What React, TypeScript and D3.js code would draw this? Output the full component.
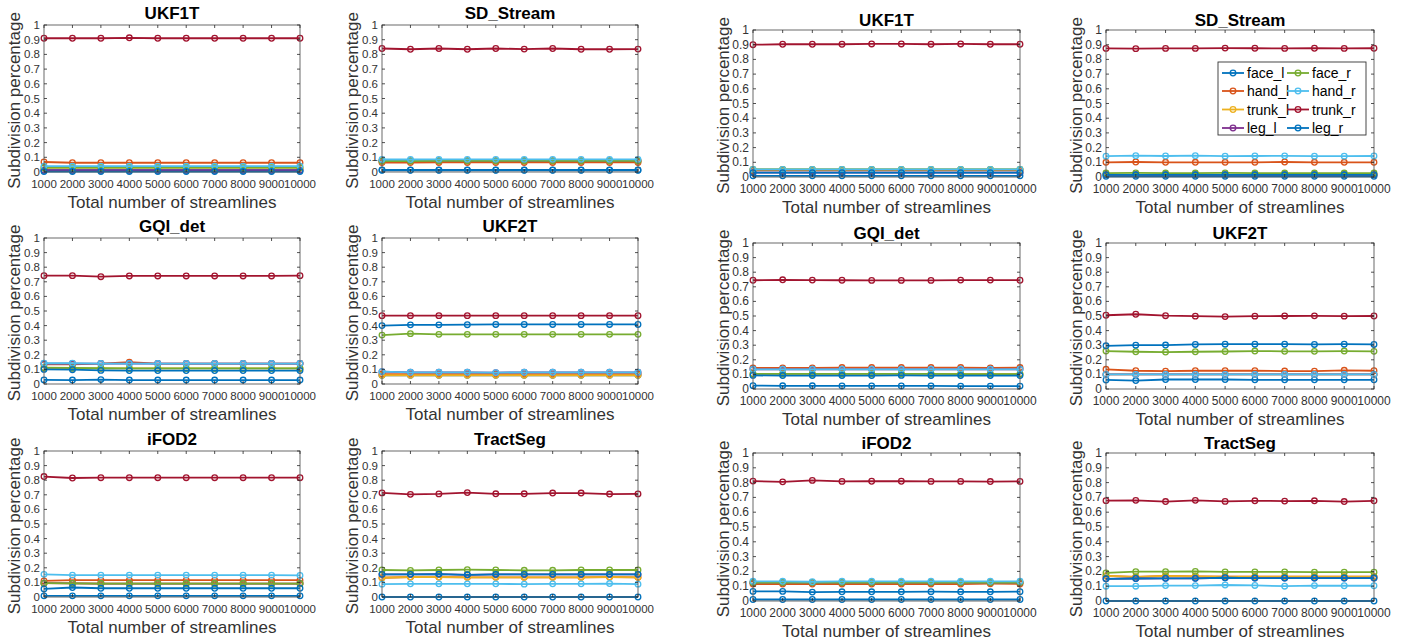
import React from "react";
import * as d3 from "d3";

// Streamline counts on the x axis
const streamlineCounts = [1000, 2000, 3000, 4000, 5000, 6000, 7000, 8000, 9000, 10000];
const yTicks = [0, 0.1, 0.2, 0.3, 0.4, 0.5, 0.6, 0.7, 0.8, 0.9, 1];

// Series in plotting order
const seriesNames = ["face_l", "hand_l", "trunk_l", "leg_l", "face_r", "hand_r", "trunk_r", "leg_r"];
const seriesColors = ["#0072BD", "#D95319", "#EDB120", "#7E2F8E", "#77AC30", "#4DBEEE", "#A2142F", "#0072BD"];
// Legend reads down each column
const legendOrder = ["face_l", "face_r", "hand_l", "hand_r", "trunk_l", "trunk_r", "leg_l", "leg_r"];

const methodTitles = ["UKF1T", "SD_Stream", "GQI_det", "UKF2T", "iFOD2", "TractSeg"];

const flat = (v: number) => streamlineCounts.map(() => v);

// ---- First set ----
const setA_UKF1T = [
  flat(0.012),
  [0.068, 0.063, 0.063, 0.063, 0.063, 0.063, 0.063, 0.063, 0.063, 0.063],
  flat(0.028),
  flat(0.012),
  flat(0.03),
  flat(0.04),
  [0.91, 0.91, 0.91, 0.913, 0.91, 0.91, 0.91, 0.91, 0.91, 0.91],
  flat(0.003),
];
const setA_SDStream = [
  flat(0.014),
  [0.064, 0.064, 0.065, 0.065, 0.065, 0.065, 0.065, 0.065, 0.065, 0.065],
  flat(0.075),
  flat(0.076),
  [0.075, 0.075, 0.076, 0.076, 0.076, 0.077, 0.076, 0.076, 0.076, 0.076],
  [0.085, 0.085, 0.086, 0.086, 0.086, 0.086, 0.086, 0.086, 0.086, 0.086],
  [0.84, 0.835, 0.84, 0.835, 0.84, 0.836, 0.84, 0.835, 0.835, 0.836],
  flat(0.012),
];
const setA_GQI = [
  [0.028, 0.027, 0.03, 0.027, 0.027, 0.027, 0.027, 0.027, 0.027, 0.027],
  [0.135, 0.135, 0.14, 0.15, 0.14, 0.14, 0.14, 0.14, 0.14, 0.14],
  flat(0.107),
  flat(0.14),
  [0.112, 0.11, 0.108, 0.107, 0.107, 0.107, 0.107, 0.107, 0.107, 0.107],
  [0.142, 0.142, 0.14, 0.14, 0.14, 0.14, 0.14, 0.14, 0.14, 0.14],
  [0.742, 0.742, 0.735, 0.74, 0.74, 0.74, 0.74, 0.74, 0.74, 0.742],
  [0.1, 0.098, 0.093, 0.092, 0.092, 0.092, 0.092, 0.092, 0.092, 0.092],
];
const setA_UKF2T = [
  flat(0.06),
  flat(0.068),
  flat(0.06),
  [0.085, 0.08, 0.08, 0.08, 0.078, 0.08, 0.08, 0.08, 0.08, 0.08],
  [0.335, 0.345, 0.34, 0.34, 0.34, 0.34, 0.34, 0.34, 0.34, 0.34],
  [0.085, 0.08, 0.08, 0.08, 0.078, 0.08, 0.08, 0.08, 0.08, 0.08],
  flat(0.468),
  [0.4, 0.405, 0.405, 0.406, 0.408, 0.408, 0.408, 0.408, 0.408, 0.408],
];
const setA_iFOD2 = [
  flat(0.008),
  [0.11, 0.115, 0.115, 0.115, 0.115, 0.115, 0.115, 0.115, 0.115, 0.115],
  [0.095, 0.093, 0.092, 0.092, 0.092, 0.092, 0.092, 0.092, 0.092, 0.092],
  [0.095, 0.093, 0.092, 0.092, 0.092, 0.092, 0.092, 0.092, 0.092, 0.092],
  [0.095, 0.093, 0.092, 0.092, 0.092, 0.092, 0.092, 0.092, 0.092, 0.092],
  [0.155, 0.15, 0.15, 0.15, 0.15, 0.15, 0.15, 0.15, 0.15, 0.148],
  [0.825, 0.815, 0.817, 0.817, 0.817, 0.817, 0.817, 0.817, 0.817, 0.817],
  [0.055, 0.065, 0.06, 0.06, 0.06, 0.06, 0.06, 0.06, 0.06, 0.06],
];
const setA_TractSeg = [
  flat(0.0),
  [0.132, 0.137, 0.137, 0.135, 0.135, 0.135, 0.135, 0.135, 0.137, 0.135],
  [0.132, 0.137, 0.137, 0.135, 0.135, 0.135, 0.135, 0.135, 0.137, 0.135],
  [0.155, 0.155, 0.157, 0.152, 0.155, 0.155, 0.155, 0.155, 0.155, 0.155],
  [0.185, 0.182, 0.185, 0.187, 0.185, 0.183, 0.183, 0.185, 0.185, 0.185],
  [0.088, 0.09, 0.09, 0.09, 0.09, 0.088, 0.09, 0.09, 0.092, 0.088],
  [0.713, 0.703, 0.706, 0.715, 0.707, 0.707, 0.712, 0.712, 0.705, 0.706],
  [0.155, 0.155, 0.157, 0.152, 0.155, 0.155, 0.155, 0.155, 0.155, 0.155],
];

// ---- Second set ----
const setB_UKF1T = [
  flat(0.008),
  flat(0.045),
  flat(0.052),
  flat(0.03),
  flat(0.052),
  flat(0.052),
  [0.9, 0.903, 0.903, 0.903, 0.905, 0.905, 0.903, 0.905, 0.903, 0.903],
  flat(0.03),
];
const setB_SDStream = [
  flat(0.005),
  [0.1, 0.102, 0.1, 0.1, 0.1, 0.1, 0.102, 0.1, 0.1, 0.1],
  flat(0.015),
  flat(0.015),
  [0.027, 0.028, 0.027, 0.027, 0.028, 0.027, 0.027, 0.027, 0.027, 0.027],
  [0.142, 0.145, 0.143, 0.145, 0.142, 0.143, 0.144, 0.142, 0.142, 0.143],
  [0.875, 0.873, 0.875, 0.875, 0.877, 0.876, 0.875, 0.876, 0.875, 0.876],
  flat(0.015),
];
const setB_GQI = [
  [0.023, 0.022, 0.022, 0.021, 0.021, 0.021, 0.021, 0.02, 0.02, 0.02],
  [0.145, 0.145, 0.145, 0.147, 0.147, 0.147, 0.147, 0.147, 0.145, 0.147],
  flat(0.103),
  flat(0.135),
  [0.103, 0.103, 0.103, 0.103, 0.104, 0.104, 0.103, 0.102, 0.102, 0.102],
  flat(0.135),
  [0.745, 0.748, 0.746, 0.745, 0.744, 0.744, 0.744, 0.746, 0.746, 0.745],
  [0.093, 0.092, 0.092, 0.092, 0.092, 0.093, 0.092, 0.092, 0.092, 0.092],
];
const setB_UKF2T = [
  [0.062, 0.058, 0.065, 0.065, 0.065, 0.063, 0.063, 0.063, 0.063, 0.063],
  [0.135, 0.125, 0.122, 0.125, 0.125, 0.125, 0.123, 0.122, 0.128, 0.125],
  flat(0.1),
  flat(0.1),
  [0.26, 0.255, 0.253, 0.255, 0.257, 0.26, 0.258, 0.258, 0.26, 0.258],
  flat(0.1),
  [0.505, 0.512, 0.502, 0.499, 0.496, 0.499, 0.5, 0.501, 0.499, 0.5],
  [0.296, 0.3, 0.301, 0.305, 0.307, 0.307, 0.307, 0.305, 0.307, 0.305],
];
const setB_iFOD2 = [
  flat(0.01),
  [0.115, 0.115, 0.115, 0.115, 0.115, 0.115, 0.115, 0.115, 0.117, 0.115],
  flat(0.125),
  flat(0.125),
  flat(0.125),
  [0.133, 0.133, 0.13, 0.133, 0.133, 0.133, 0.133, 0.133, 0.133, 0.133],
  [0.81, 0.805, 0.815, 0.808, 0.809, 0.809, 0.808, 0.808, 0.807, 0.808],
  [0.065, 0.065, 0.06, 0.062, 0.062, 0.062, 0.063, 0.062, 0.062, 0.063],
];
const setB_TractSeg = [
  flat(0.0),
  [0.17, 0.163, 0.17, 0.167, 0.165, 0.165, 0.165, 0.165, 0.165, 0.165],
  [0.17, 0.163, 0.17, 0.167, 0.165, 0.165, 0.165, 0.165, 0.165, 0.165],
  [0.15, 0.152, 0.153, 0.153, 0.157, 0.155, 0.155, 0.155, 0.155, 0.155],
  [0.19, 0.198, 0.198, 0.2, 0.197, 0.197, 0.197, 0.195, 0.195, 0.195],
  [0.1, 0.1, 0.104, 0.104, 0.108, 0.105, 0.1, 0.104, 0.103, 0.103],
  [0.678, 0.68, 0.672, 0.68, 0.673, 0.677, 0.675, 0.677, 0.672, 0.677],
  [0.15, 0.152, 0.153, 0.153, 0.157, 0.155, 0.155, 0.155, 0.155, 0.155],
];

const setA = [setA_UKF1T, setA_SDStream, setA_GQI, setA_UKF2T, setA_iFOD2, setA_TractSeg];
const setB = [setB_UKF1T, setB_SDStream, setB_GQI, setB_UKF2T, setB_iFOD2, setB_TractSeg];

const FONT = "'Liberation Sans', Arial, Helvetica, sans-serif";
const AXIS = "#262626";

type Layout = {
  cols: [number, number][];
  rows: [number, number][];
  titleGap: number;
  tickFont: number;
};

const layoutA: Layout = {
  cols: [[44, 300], [382, 638]],
  rows: [[25, 172], [238, 384], [451, 597]],
  titleGap: 6,
  tickFont: 11.5,
};
const layoutB: Layout = {
  cols: [[753, 1020], [1106, 1374]],
  rows: [[30, 177], [243, 389], [453, 601]],
  titleGap: 4,
  tickFont: 12,
};

function Panel(props: {
  x0: number; x1: number; y0: number; y1: number;
  title: string; data: number[][]; titleGap: number; tickFont: number; legend?: boolean;
}) {
  const { x0, x1, y0, y1, title, data, titleGap, tickFont, legend } = props;
  const x = d3.scaleLinear().domain([1000, 10000]).range([x0, x1]);
  const y = d3.scaleLinear().domain([0, 1]).range([y1, y0]);
  const line = d3.line<number>().x((_, i) => x(streamlineCounts[i])).y((v) => y(v));
  const tl = 3;
  return (
    <g>
      {/* series */}
      {data.map((vals, si) => (
        <g key={si} stroke={seriesColors[si]} fill="none">
          <path d={line(vals) || ""} strokeWidth={1.8} strokeLinejoin="round" />
          {vals.map((v, i) => (
            <circle key={i} cx={x(streamlineCounts[i])} cy={y(v)} r={2.8} strokeWidth={1.3} />
          ))}
        </g>
      ))}
      {/* box */}
      <rect x={x0} y={y0} width={x1 - x0} height={y1 - y0} fill="none" stroke="#5a5a5a" strokeWidth={0.9} />
      {/* ticks */}
      {streamlineCounts.map((t) => (
        <g key={"xt" + t} stroke={AXIS} strokeWidth={0.8}>
          <line x1={x(t)} x2={x(t)} y1={y1} y2={y1 - tl} />
          <line x1={x(t)} x2={x(t)} y1={y0} y2={y0 + tl} />
        </g>
      ))}
      {yTicks.map((t) => (
        <g key={"yt" + t} stroke={AXIS} strokeWidth={0.8}>
          <line x1={x0} x2={x0 + tl} y1={y(t)} y2={y(t)} />
          <line x1={x1} x2={x1 - tl} y1={y(t)} y2={y(t)} />
        </g>
      ))}
      {/* tick labels */}
      {streamlineCounts.map((t) => (
        <text key={"xl" + t} x={x(t)} y={y1 + 16} textAnchor="middle" fontSize={tickFont} fill="#333" fontFamily={FONT}>
          {t}
        </text>
      ))}
      {yTicks.map((t) => (
        <text key={"yl" + t} x={x0 - 4} y={y(t) + 4} textAnchor="end" fontSize={tickFont} fill="#333" fontFamily={FONT}>
          {String(t)}
        </text>
      ))}
      {/* labels */}
      <text x={(x0 + x1) / 2} y={y1 + 36} textAnchor="middle" fontSize={17} fill="#333" fontFamily={FONT}>
        Total number of streamlines
      </text>
      <text
        transform={`translate(${x0 - 24},${(y0 + y1) / 2 + 2}) rotate(-90)`}
        textAnchor="middle" fontSize={17} fill="#333" fontFamily={FONT}
      >
        Subdivision percentage
      </text>
      <text x={(x0 + x1) / 2} y={y0 - titleGap} textAnchor="middle" fontSize={17} fontWeight="bold" fill="#000" fontFamily={FONT}>
        {title}
      </text>
      {legend && <Legend />}
    </g>
  );
}

function Legend() {
  const lx = 1218, ly = 62, lw = 148, lh = 73;
  const colX = [1222, 1287];
  const rowY = [73, 91, 109.5, 128];
  return (
    <g>
      <rect x={lx} y={ly} width={lw} height={lh} fill="#fff" stroke="#333" strokeWidth={0.9} />
      {legendOrder.map((name, k) => {
        const col = k % 2;
        const row = Math.floor(k / 2);
        const si = seriesNames.indexOf(name);
        const cx = colX[col];
        const cy = rowY[row];
        return (
          <g key={name}>
            <line x1={cx} x2={cx + 22} y1={cy} y2={cy} stroke={seriesColors[si]} strokeWidth={1.8} />
            <circle cx={cx + 11} cy={cy} r={2.8} fill="none" stroke={seriesColors[si]} strokeWidth={1.3} />
            <text x={cx + 25} y={cy + 5} fontSize={14} fill="#000" fontFamily={FONT}>{name}</text>
          </g>
        );
      })}
    </g>
  );
}

function Group(props: { layout: Layout; sets: number[][][]; legendIndex?: number }) {
  const { layout, sets, legendIndex } = props;
  return (
    <g>
      {sets.map((data, k) => {
        const col = k % 2;
        const row = Math.floor(k / 2);
        const [x0, x1] = layout.cols[col];
        const [y0, y1] = layout.rows[row];
        return (
          <Panel
            key={k}
            x0={x0} x1={x1} y0={y0} y1={y1}
            title={methodTitles[k]}
            data={data}
            titleGap={layout.titleGap}
            tickFont={layout.tickFont}
            legend={legendIndex === k}
          />
        );
      })}
    </g>
  );
}

export default function App() {
  return (
    <svg
      width={1406}
      height={641}
      viewBox="0 0 1406 641"
      style={{ position: "absolute", left: 0, top: 0, background: "#fff" }}
    >
      <rect width={1406} height={641} fill="#fff" />
      <Group layout={layoutA} sets={setA} />
      <Group layout={layoutB} sets={setB} legendIndex={1} />
    </svg>
  );
}
